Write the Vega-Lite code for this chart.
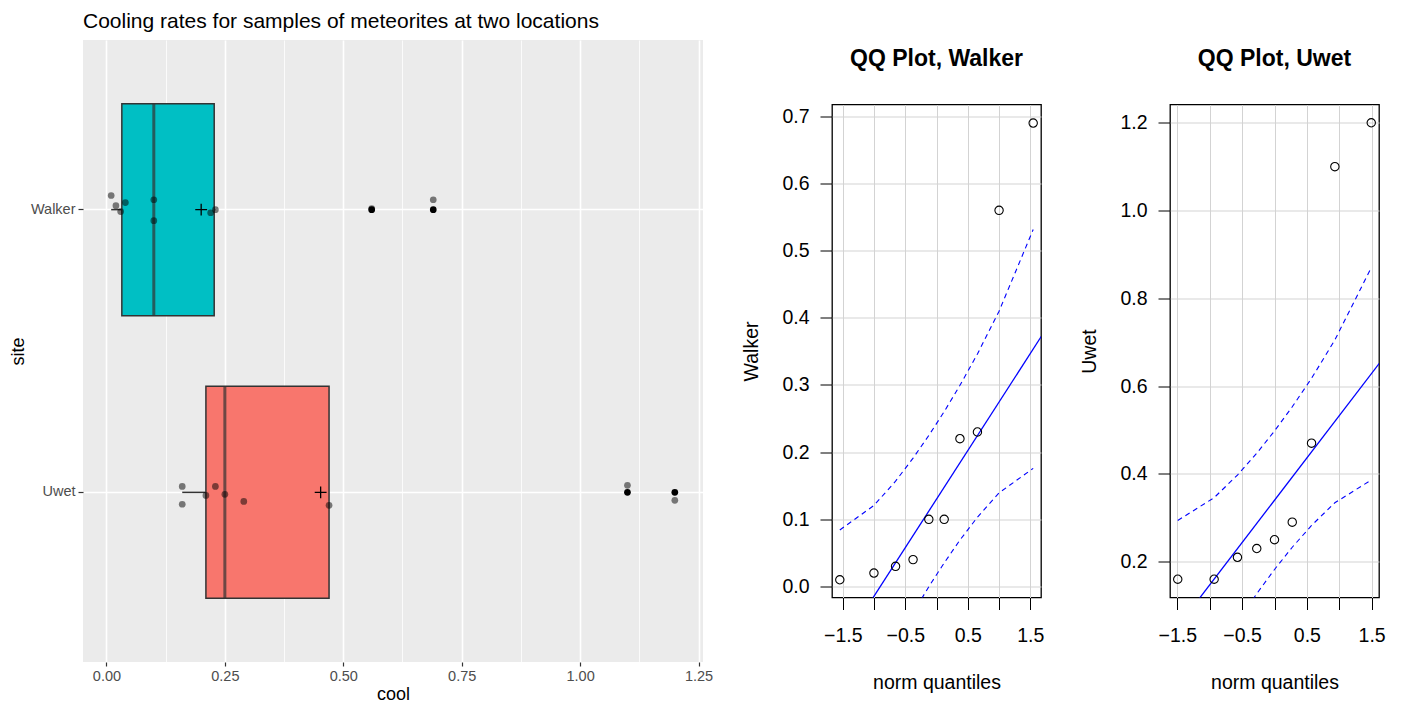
{
  "$schema": "https://vega.github.io/schema/vega-lite/v6.json",
  "background": "white",
  "padding": {"left": 9, "top": 11, "right": 5, "bottom": 5},
  "config": {"font": "Liberation Sans"},
  "datasets": {
    "meteorites": [
      {"site": "Walker", "cool": 0.01, "jitter": 0.050},
      {"site": "Walker", "cool": 0.02, "jitter": 0.014},
      {"site": "Walker", "cool": 0.03, "jitter": -0.007},
      {"site": "Walker", "cool": 0.04, "jitter": 0.025},
      {"site": "Walker", "cool": 0.10, "jitter": 0.035},
      {"site": "Walker", "cool": 0.10, "jitter": -0.039},
      {"site": "Walker", "cool": 0.22, "jitter": -0.011},
      {"site": "Walker", "cool": 0.23, "jitter": 0.000},
      {"site": "Walker", "cool": 0.56, "jitter": 0.004},
      {"site": "Walker", "cool": 0.69, "jitter": 0.035},
      {"site": "Uwet", "cool": 0.16, "jitter": 0.021},
      {"site": "Uwet", "cool": 0.16, "jitter": -0.042},
      {"site": "Uwet", "cool": 0.21, "jitter": -0.011},
      {"site": "Uwet", "cool": 0.23, "jitter": 0.021},
      {"site": "Uwet", "cool": 0.25, "jitter": -0.007},
      {"site": "Uwet", "cool": 0.29, "jitter": -0.032},
      {"site": "Uwet", "cool": 0.47, "jitter": -0.046},
      {"site": "Uwet", "cool": 1.10, "jitter": 0.025},
      {"site": "Uwet", "cool": 1.20, "jitter": -0.028}
    ],
    "walker_qq": [
      {"q": -1.547, "y": 0.01}, {"q": -1.001, "y": 0.02}, {"q": -0.655, "y": 0.03},
      {"q": -0.375, "y": 0.04}, {"q": -0.123, "y": 0.10}, {"q": 0.123, "y": 0.10},
      {"q": 0.375, "y": 0.22}, {"q": 0.655, "y": 0.23}, {"q": 1.001, "y": 0.56},
      {"q": 1.547, "y": 0.69}
    ],
    "walker_line": [
      {"q": -1.7, "y": -0.1157}, {"q": 1.7, "y": 0.3757}
    ],
    "walker_envelope": [
      {"q": -1.547, "bound": "upper", "y": 0.0842}, {"q": -1.001, "bound": "upper", "y": 0.1206},
      {"q": -0.655, "bound": "upper", "y": 0.1568}, {"q": -0.375, "bound": "upper", "y": 0.1910},
      {"q": -0.123, "bound": "upper", "y": 0.2249}, {"q": 0.123, "bound": "upper", "y": 0.2603},
      {"q": 0.375, "bound": "upper", "y": 0.2995}, {"q": 0.655, "bound": "upper", "y": 0.3462},
      {"q": 1.001, "bound": "upper", "y": 0.4099}, {"q": 1.547, "bound": "upper", "y": 0.5314},
      {"q": -1.547, "bound": "lower", "y": -0.2714}, {"q": -1.001, "bound": "lower", "y": -0.1499},
      {"q": -0.655, "bound": "lower", "y": -0.0862}, {"q": -0.375, "bound": "lower", "y": -0.0395},
      {"q": -0.123, "bound": "lower", "y": -0.0003}, {"q": 0.123, "bound": "lower", "y": 0.0351},
      {"q": 0.375, "bound": "lower", "y": 0.0691}, {"q": 0.655, "bound": "lower", "y": 0.1032},
      {"q": 1.001, "bound": "lower", "y": 0.1394}, {"q": 1.547, "bound": "lower", "y": 0.1758}
    ],
    "uwet_qq": [
      {"q": -1.494, "y": 0.16}, {"q": -0.932, "y": 0.16}, {"q": -0.572, "y": 0.21},
      {"q": -0.274, "y": 0.23}, {"q": 0.0, "y": 0.25}, {"q": 0.274, "y": 0.29},
      {"q": 0.572, "y": 0.47}, {"q": 0.932, "y": 1.10}, {"q": 1.494, "y": 1.20}
    ],
    "uwet_line": [
      {"q": -1.7, "y": 0.0123}, {"q": 1.7, "y": 0.6677}
    ],
    "uwet_envelope": [
      {"q": -1.494, "bound": "upper", "y": 0.2939}, {"q": -0.932, "bound": "upper", "y": 0.3458},
      {"q": -0.572, "bound": "upper", "y": 0.3974}, {"q": -0.274, "bound": "upper", "y": 0.4471},
      {"q": 0.0, "bound": "upper", "y": 0.4978}, {"q": 0.274, "bound": "upper", "y": 0.5529},
      {"q": 0.572, "bound": "upper", "y": 0.6177}, {"q": 0.932, "bound": "upper", "y": 0.7051},
      {"q": 1.494, "bound": "upper", "y": 0.8698},
      {"q": -1.494, "bound": "lower", "y": -0.1898}, {"q": -0.932, "bound": "lower", "y": -0.0251},
      {"q": -0.572, "bound": "lower", "y": 0.0623}, {"q": -0.274, "bound": "lower", "y": 0.1271},
      {"q": 0.0, "bound": "lower", "y": 0.1822}, {"q": 0.274, "bound": "lower", "y": 0.2329},
      {"q": 0.572, "bound": "lower", "y": 0.2826}, {"q": 0.932, "bound": "lower", "y": 0.3342},
      {"q": 1.494, "bound": "lower", "y": 0.3861}
    ]
  },
  "hconcat": [
    {
      "width": 620,
      "height": 622,
      "data": {"name": "meteorites"},
      "title": {"text": "Cooling rates for samples of meteorites at two locations", "anchor": "start", "frame": "group", "fontSize": 21, "fontWeight": "normal", "color": "black", "offset": 8},
      "view": {"fill": "#EBEBEB", "stroke": null},
      "resolve": {"axis": {"x": "independent"}},
      "layer": [
        {
          "transform": [{"filter": {"field": "site", "equal": "Walker"}}],
          "mark": {"type": "boxplot", "extent": 1.5, "size": 212,
            "box": {"fill": "#00BFC4", "stroke": "#333333", "strokeWidth": 1.5},
            "median": {"color": "#333333", "thickness": 3},
            "rule": {"color": "#333333", "strokeWidth": 1.5},
            "outliers": {"color": "black", "filled": true, "size": 45, "opacity": 1}},
          "encoding": {
            "x": {"field": "cool", "type": "quantitative", "scale": {"domain": [-0.0495, 1.2595], "nice": false, "zero": false}, "axis": null},
            "y": {"field": "site", "type": "nominal", "scale": {"type": "band", "domain": ["Walker", "Uwet"], "paddingInner": 0.25, "paddingOuter": 0.225},
              "axis": {"title": "site", "bandPosition": 0.5, "grid": true, "gridColor": "white", "gridWidth": 1.6, "domain": false, "tickColor": "#333333", "tickSize": 5, "tickWidth": 1.2, "labelColor": "#4D4D4D", "labelFontSize": 14.5, "labelPadding": 3, "titleFontSize": 18, "titleFontWeight": "normal", "titleColor": "black", "titlePadding": 3}}
          }
        },
        {
          "transform": [{"filter": {"field": "site", "equal": "Uwet"}}],
          "mark": {"type": "boxplot", "extent": 1.5, "size": 212,
            "box": {"fill": "#F8766D", "stroke": "#333333", "strokeWidth": 1.5},
            "median": {"color": "#333333", "thickness": 3},
            "rule": {"color": "#333333", "strokeWidth": 1.5},
            "outliers": {"color": "black", "filled": true, "size": 45, "opacity": 1}},
          "encoding": {
            "x": {"field": "cool", "type": "quantitative", "scale": {"domain": [-0.0495, 1.2595], "nice": false, "zero": false}, "axis": null},
            "y": {"field": "site", "type": "nominal", "scale": {"type": "band", "domain": ["Walker", "Uwet"], "paddingInner": 0.25, "paddingOuter": 0.225},
              "axis": {"title": "site", "bandPosition": 0.5, "grid": true, "gridColor": "white", "gridWidth": 1.6, "domain": false, "tickColor": "#333333", "tickSize": 5, "tickWidth": 1.2, "labelColor": "#4D4D4D", "labelFontSize": 14.5, "labelPadding": 3, "titleFontSize": 18, "titleFontWeight": "normal", "titleColor": "black", "titlePadding": 3}}
          }
        },
        {
          "mark": {"type": "circle", "color": "black", "opacity": 0.5, "size": 45},
          "encoding": {
            "x": {"field": "cool", "type": "quantitative", "scale": {"domain": [-0.0495, 1.2595], "nice": false, "zero": false},
              "axis": {"title": "cool", "values": [0, 0.25, 0.5, 0.75, 1, 1.25], "format": ".2f", "grid": true, "gridColor": "white", "gridWidth": 1.6, "domain": false, "tickColor": "#333333", "tickSize": 4, "tickWidth": 1.2, "labelColor": "#4D4D4D", "labelFontSize": 14.5, "labelPadding": 3, "titleFontSize": 18, "titleFontWeight": "normal", "titleColor": "black", "titlePadding": 3}},
            "y": {"field": "site", "type": "nominal", "scale": {"type": "band", "domain": ["Walker", "Uwet"], "paddingInner": 0.25, "paddingOuter": 0.225},
              "axis": {"title": "site", "bandPosition": 0.5, "grid": true, "gridColor": "white", "gridWidth": 1.6, "domain": false, "tickColor": "#333333", "tickSize": 5, "tickWidth": 1.2, "labelColor": "#4D4D4D", "labelFontSize": 14.5, "labelPadding": 3, "titleFontSize": 18, "titleFontWeight": "normal", "titleColor": "black", "titlePadding": 3}},
            "yOffset": {"field": "jitter", "type": "quantitative", "scale": {"domain": [-0.375, 0.375], "reverse": true}}
          }
        },
        {
          "transform": [{"aggregate": [{"op": "mean", "field": "cool", "as": "mean_cool"}], "groupby": ["site"]}],
          "mark": {"type": "point", "shape": "M-1,0H1M0,-1V1", "filled": false, "color": "black", "strokeWidth": 1.3, "size": 140, "opacity": 1},
          "encoding": {
            "x": {"field": "mean_cool", "type": "quantitative", "scale": {"domain": [-0.0495, 1.2595], "nice": false, "zero": false},
              "axis": {"orient": "top", "title": null, "values": [0.125, 0.375, 0.625, 0.875, 1.125], "grid": true, "gridColor": "white", "gridWidth": 0.8, "labels": false, "ticks": false, "domain": false}},
            "y": {"field": "site", "type": "nominal", "scale": {"type": "band", "domain": ["Walker", "Uwet"], "paddingInner": 0.25, "paddingOuter": 0.225},
              "axis": {"title": "site", "bandPosition": 0.5, "grid": true, "gridColor": "white", "gridWidth": 1.6, "domain": false, "tickColor": "#333333", "tickSize": 5, "tickWidth": 1.2, "labelColor": "#4D4D4D", "labelFontSize": 14.5, "labelPadding": 3, "titleFontSize": 18, "titleFontWeight": "normal", "titleColor": "black", "titlePadding": 3}}
          }
        }
      ]
    },
    {
      "width": 209,
      "height": 493,
      "title": {"text": "QQ Plot, Walker", "anchor": "middle", "frame": "group", "fontSize": 23, "fontWeight": "bold", "color": "black", "offset": 34},
      "view": {"fill": "white", "stroke": "black", "strokeWidth": 1.3},
      "encoding": {
        "x": {"field": "q", "type": "quantitative", "scale": {"domain": [-1.672, 1.672], "nice": false, "zero": false},
          "axis": {"title": "norm quantiles", "values": [-1.5, -1, -0.5, 0, 0.5, 1, 1.5], "format": ".1f", "labelExpr": "datum.value % 1 === 0 ? '' : datum.label", "grid": true, "gridColor": "#D3D3D3", "gridWidth": 1, "domain": false, "tickColor": "black", "tickSize": 12, "tickWidth": 1, "labelColor": "black", "labelFontSize": 19.5, "labelPadding": 17, "labelFlush": false, "titleFontSize": 19.5, "titleFontWeight": "normal", "titleColor": "black", "titlePadding": 28}},
        "y": {"field": "y", "type": "quantitative", "scale": {"domain": [-0.0164, 0.7176], "nice": false, "zero": false},
          "axis": {"title": "Walker", "values": [0, 0.1, 0.2, 0.3, 0.4, 0.5, 0.6, 0.7], "format": ".1f", "grid": true, "gridColor": "#D3D3D3", "gridWidth": 1, "domain": false, "tickColor": "black", "tickSize": 12, "tickWidth": 1, "labelColor": "black", "labelFontSize": 19.5, "labelPadding": 11, "labelFlush": false, "titleFontSize": 19.5, "titleFontWeight": "normal", "titleColor": "black", "titlePadding": 20}}
      },
      "layer": [
        {"data": {"name": "walker_envelope"}, "mark": {"type": "line", "color": "blue", "strokeDash": [5, 4], "strokeWidth": 1.1, "clip": true}, "encoding": {"detail": {"field": "bound"}}},
        {"data": {"name": "walker_line"}, "mark": {"type": "line", "color": "blue", "strokeWidth": 1.3, "clip": true}, "encoding": {}},
        {"data": {"name": "walker_qq"}, "mark": {"type": "point", "shape": "circle", "filled": false, "color": "black", "size": 70, "strokeWidth": 1.1, "opacity": 1}}
      ]
    },
    {
      "width": 209,
      "height": 493,
      "title": {"text": "QQ Plot, Uwet", "anchor": "middle", "frame": "group", "fontSize": 23, "fontWeight": "bold", "color": "black", "offset": 34},
      "view": {"fill": "white", "stroke": "black", "strokeWidth": 1.3},
      "encoding": {
        "x": {"field": "q", "type": "quantitative", "scale": {"domain": [-1.6135, 1.6135], "nice": false, "zero": false},
          "axis": {"title": "norm quantiles", "values": [-1.5, -1, -0.5, 0, 0.5, 1, 1.5], "format": ".1f", "labelExpr": "datum.value % 1 === 0 ? '' : datum.label", "grid": true, "gridColor": "#D3D3D3", "gridWidth": 1, "domain": false, "tickColor": "black", "tickSize": 12, "tickWidth": 1, "labelColor": "black", "labelFontSize": 19.5, "labelPadding": 17, "labelFlush": false, "titleFontSize": 19.5, "titleFontWeight": "normal", "titleColor": "black", "titlePadding": 28}},
        "y": {"field": "y", "type": "quantitative", "scale": {"domain": [0.1184, 1.2416], "nice": false, "zero": false},
          "axis": {"title": "Uwet", "values": [0.2, 0.4, 0.6, 0.8, 1.0, 1.2], "format": ".1f", "grid": true, "gridColor": "#D3D3D3", "gridWidth": 1, "domain": false, "tickColor": "black", "tickSize": 12, "tickWidth": 1, "labelColor": "black", "labelFontSize": 19.5, "labelPadding": 11, "labelFlush": false, "titleFontSize": 19.5, "titleFontWeight": "normal", "titleColor": "black", "titlePadding": 20}}
      },
      "layer": [
        {"data": {"name": "uwet_envelope"}, "mark": {"type": "line", "color": "blue", "strokeDash": [5, 4], "strokeWidth": 1.1, "clip": true}, "encoding": {"detail": {"field": "bound"}}},
        {"data": {"name": "uwet_line"}, "mark": {"type": "line", "color": "blue", "strokeWidth": 1.3, "clip": true}, "encoding": {}},
        {"data": {"name": "uwet_qq"}, "mark": {"type": "point", "shape": "circle", "filled": false, "color": "black", "size": 70, "strokeWidth": 1.1, "opacity": 1}}
      ]
    }
  ],
  "spacing": 129,
  "bounds": "flush",
  "center": true
}
